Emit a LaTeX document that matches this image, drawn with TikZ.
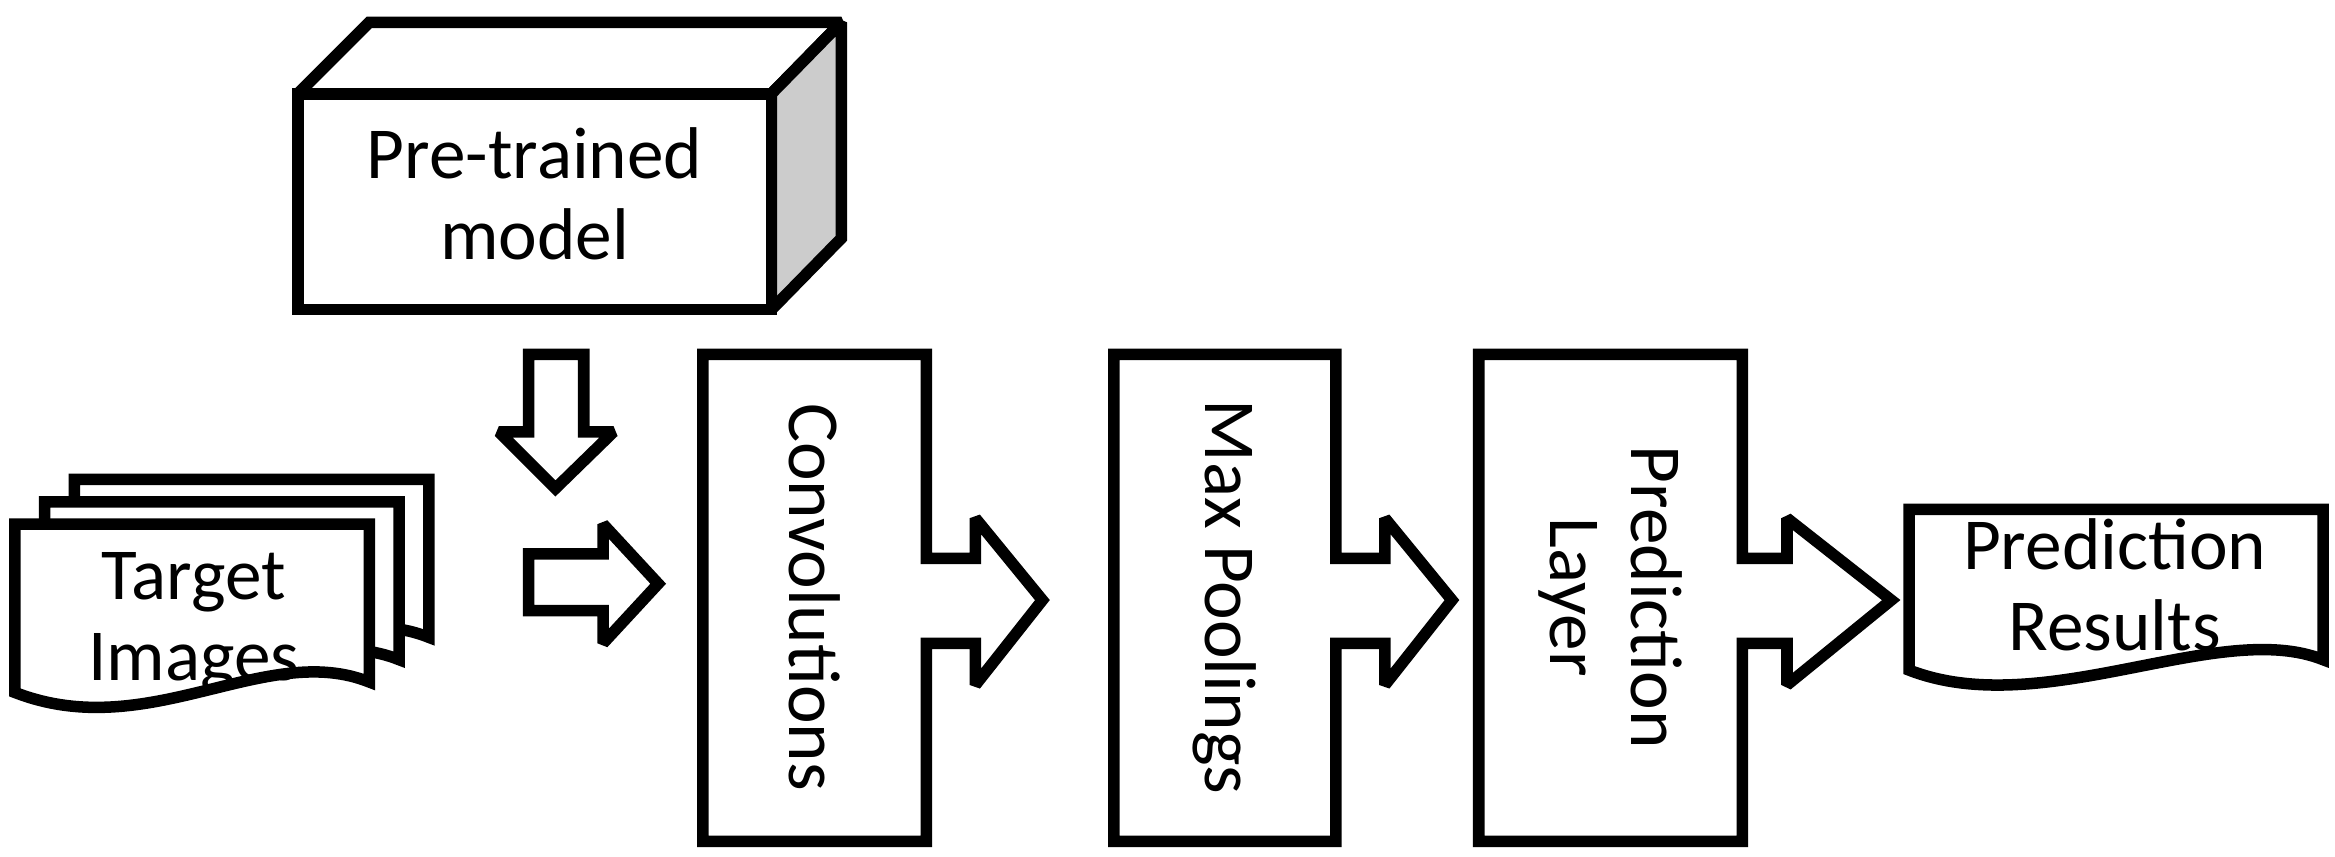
\documentclass[tikz,border=0pt]{standalone}
\usepackage{fontspec}
\setmainfont{Carlito}
\usetikzlibrary{positioning,calc}
\tikzset{
  blk/.style={draw, line width=2.2pt, fill=white, line join=miter, miter limit=2},
  lbl/.style={font=\fontsize{14}{15.5}\selectfont, align=center},
}
\newcommand\docshape[4]{% x1,y1,x2,y2
  \draw[blk] (#1,#2) -- (#3,#2) -- (#3,#4-12) .. controls ($(#3,#4)+(-70,-40)$) and ($(#1,#4)+(90,30)$) .. (#1,#4-5) -- cycle;}
\newcommand\stagebox[5]{% xl, xr, xn, xt, name
  \draw[blk] (#1,238) -- (#2,238) -- (#2,375) -- (#3,375) -- (#3,348) -- (#4,403)
    -- (#3,460) -- (#3,432) -- (#2,432) -- (#2,565) -- (#1,565) -- cycle;
  \coordinate (#5) at ({(#1+#2)/2},401);}
\begin{document}
\begin{tikzpicture}[x=0.1mm,y=-0.1mm]
\useasboundingbox[fill=white] (0,0) rectangle (1568,575);
% pre-trained model box
\draw[blk] (200,63) -- (248,15) -- (565,15) -- (518,63) -- cycle;
\draw[blk, fill=black!20] (518,63) -- (565,15) -- (565,160) -- (518,208) -- cycle;
\draw[blk] (200,63) rectangle (518,208);
\node[lbl] (model) at (359,130) {Pre-trained\\model};
% input arrows
\draw[blk] (355,238) -- (392,238) -- (392,290) -- (412,290) -- (373,328) -- (335,290) -- (355,290) -- cycle;
\draw[blk] (355,372) -- (405,372) -- (405,352) -- (442,392) -- (405,432) -- (405,410) -- (355,410) -- cycle;
% target images
\docshape{50}{322}{288}{440}
\docshape{30}{337}{268}{455}
\docshape{10}{352}{248}{470}
\node[lbl] (target) at (130,418) {Target\\Images};
% stages
\stagebox{472}{622}{655}{700}{conv}
\node[lbl, rotate=-90] at (conv) {Convolutions};
\stagebox{748}{897}{930}{975}{pool}
\node[lbl, rotate=-90] at (pool) {Max Poolings};
\stagebox{993}{1170}{1200}{1270}{pred}
\node[lbl, rotate=-90] at (pred) {Prediction\\Layer};
% results
\docshape{1282}{342}{1560}{455}
\node[lbl] (results) at (1420,393) {Prediction\\Results};
\end{tikzpicture}
\end{document}
